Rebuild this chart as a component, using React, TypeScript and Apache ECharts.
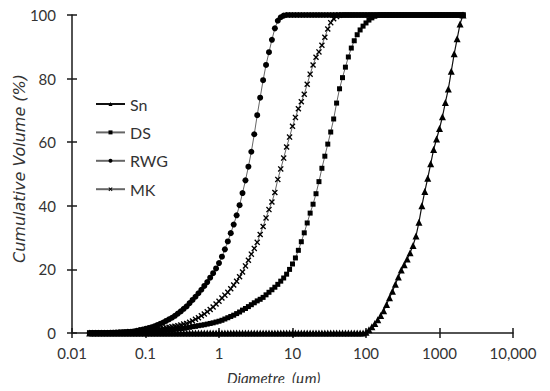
import React, { useEffect, useRef } from "react";
import * as echarts from "echarts";

// Particle-size classes (µm)
const diameters = [
  0.0174, 0.0191, 0.0209, 0.0229, 0.0251, 0.0275, 0.0302, 0.0331, 0.0363, 0.0398,
  0.0437, 0.0479, 0.0525, 0.0575, 0.0631, 0.0692, 0.0759, 0.0832, 0.0912,
  0.1, 0.1096, 0.1202, 0.1318, 0.1445, 0.1585, 0.1738, 0.1905, 0.2089, 0.2291,
  0.2512, 0.2754, 0.302, 0.3311, 0.3631, 0.3981, 0.4365, 0.4786, 0.5248, 0.5754,
  0.631, 0.6918, 0.7586, 0.8318, 0.912,
  1, 1.096, 1.202, 1.318, 1.445, 1.585, 1.738, 1.905, 2.089, 2.291,
  2.512, 2.754, 3.02, 3.311, 3.631, 3.981, 4.365, 4.786, 5.248, 5.754,
  6.31, 6.918, 7.586, 8.318, 9.12,
  10, 10.96, 12.02, 13.18, 14.45, 15.85, 17.38, 19.05, 20.89, 22.91,
  25.12, 27.54, 30.2, 33.11, 36.31, 39.81, 43.65, 47.86, 52.48, 57.54,
  63.1, 69.18, 75.86, 83.18, 91.2,
  100, 109.6, 120.2, 131.8, 144.5, 158.5, 173.8, 190.5, 208.9, 229.1,
  251.2, 275.4, 302, 331.1, 363.1, 398.1, 436.5, 478.6, 524.8, 575.4,
  631, 691.8, 758.6, 831.8, 912,
  1000, 1096, 1202, 1318, 1445, 1585, 1738, 1905, 2089,
];

const snValues = [
  0, 0, 0, 0, 0, 0, 0, 0, 0, 0, 0, 0, 0, 0, 0, 0, 0, 0, 0, 0,
  0, 0, 0, 0, 0, 0, 0, 0, 0, 0, 0, 0, 0, 0, 0, 0, 0, 0, 0, 0,
  0, 0, 0, 0, 0, 0, 0, 0, 0, 0, 0, 0, 0, 0, 0, 0, 0, 0, 0, 0,
  0, 0, 0, 0, 0, 0, 0, 0, 0, 0, 0, 0, 0, 0, 0, 0, 0, 0, 0, 0,
  0, 0, 0, 0, 0, 0, 0, 0, 0, 0, 0, 0, 0, 0,
  0.2, 1.0, 2.0, 3.0, 4.2, 5.5, 7.0, 9.0, 11.1, 13.1,
  15.3, 17.6, 19.8, 21.5, 23.3, 25.2, 27.5, 30.5, 34.8, 40.0,
  44.5, 48.7, 53.2, 57.7, 61.0, 64.3, 68.0, 72.5, 76.7, 82.3,
  87.8, 92.5, 97.2, 100,
];

const dsValues = [
  0, 0, 0, 0, 0, 0, 0, 0, 0, 0,
  0.02, 0.05, 0.08, 0.1, 0.15, 0.2, 0.25, 0.3, 0.35, 0.4,
  0.5, 0.55, 0.6, 0.7, 0.8, 0.9, 1.0, 1.05, 1.1, 1.2,
  1.3, 1.4, 1.5, 1.65, 1.8, 2.0, 2.1, 2.3, 2.45, 2.6,
  2.8, 3.0, 3.2, 3.45, 3.7, 4.0, 4.4, 4.8, 5.2, 5.6,
  6.1, 6.6, 7.2, 7.7, 8.3, 8.9, 9.5, 10.1, 10.6, 11.2,
  12.0, 12.8, 13.6, 14.4, 15.3, 16.3, 17.3, 18.5, 20.0, 21.7,
  23.6, 26.0, 28.7, 31.5, 34.6, 37.7, 40.5, 43.8, 47.6, 51.8,
  55.6, 59.4, 63.2, 67.3, 72.3, 76.8, 80.3, 83.6, 86.8, 89.6,
  91.9, 93.8, 95.3, 96.5, 97.5, 98.4, 99.1, 99.6, 99.9,
  100, 100, 100, 100, 100, 100, 100, 100, 100, 100,
  100, 100, 100, 100, 100, 100, 100, 100, 100, 100,
  100, 100, 100, 100, 100, 100, 100, 100, 100,
];

const rwgValues = [
  0, 0, 0, 0, 0, 0, 0,
  0.05, 0.1, 0.15, 0.2, 0.25, 0.3, 0.35, 0.4, 0.5, 0.7, 0.9, 1.1, 1.3,
  1.55, 1.8, 2.1, 2.5, 2.9, 3.3, 3.8, 4.3, 4.8, 5.4,
  6.1, 6.8, 7.6, 8.4, 9.4, 10.4, 11.4, 12.5, 13.6, 14.8,
  16.0, 17.4, 18.8, 20.3, 22.0, 24.0, 26.3, 28.8, 31.4, 34.1,
  37.0, 40.2, 44.0, 48.0, 52.3, 57.0, 62.5, 68.5, 74.0, 79.5,
  84.3, 88.3, 92.2, 95.8, 98.2, 99.3, 99.8, 100,
  100, 100, 100, 100, 100, 100, 100, 100, 100, 100,
  100, 100, 100, 100, 100, 100, 100, 100, 100, 100,
  100, 100, 100, 100, 100, 100, 100, 100, 100, 100,
  100, 100, 100, 100, 100, 100, 100, 100, 100, 100,
  100, 100, 100, 100, 100, 100, 100, 100, 100, 100,
  100, 100, 100, 100, 100, 100, 100, 100, 100, 100,
];

const mkValues = [
  0, 0, 0, 0, 0, 0, 0, 0,
  0.05, 0.1, 0.1, 0.15, 0.2, 0.25, 0.3, 0.4, 0.5, 0.6, 0.7, 0.8,
  0.9, 1.0, 1.1, 1.2, 1.4, 1.5, 1.7, 1.8, 2.0, 2.1,
  2.3, 2.5, 2.8, 3.0, 3.4, 3.8, 4.3, 4.8, 5.4, 6.0,
  6.7, 7.4, 8.2, 9.1, 10.0, 11.0, 11.9, 12.8, 13.9, 15.1,
  16.3, 17.7, 19.2, 21.1, 22.9, 24.8, 26.6, 28.5, 31.0, 33.5,
  36.2, 38.8, 41.2, 44.2, 48.3, 51.6, 55.0, 58.5, 61.6, 65.0,
  67.8, 70.5, 72.7, 75.1, 78.2, 81.4, 84.3, 86.7, 88.4, 90.5,
  93.0, 95.6, 97.6, 98.8, 99.5, 99.9,
  100, 100, 100, 100, 100, 100, 100, 100, 100, 100,
  100, 100, 100, 100, 100, 100, 100, 100, 100, 100,
  100, 100, 100, 100, 100, 100, 100, 100, 100, 100,
  100, 100, 100, 100, 100, 100, 100, 100, 100, 100,
  100, 100,
];

const seriesNames = ["Sn", "DS", "RWG", "MK"];
const xTickLabels = ["0.01", "0.1", "1", "10", "100", "1000", "10,000"];
const xTitle = "Diametre  (\u00b5m)";
const yTitle = "Cumulative Volume (%)";

const FONT = "Lato, 'Open Sans', sans-serif";
const CROSS =
  "path://M0,1.6L1.6,0L5,3.4L8.4,0L10,1.6L6.6,5L10,8.4L8.4,10L5,6.6L1.6,10L0,8.4L3.4,5Z";

export default function App() {
  const ref = useRef<HTMLDivElement>(null);

  useEffect(() => {
    if (!ref.current) return;
    const chart = echarts.init(ref.current, undefined, { renderer: "svg" });

    const pairs = (vals: number[]) => diameters.map((d, i) => [d, vals[i]]);
    const mk = (
      name: string,
      vals: number[],
      symbol: string,
      size: number,
      lineColor: string,
      lineWidth: number
    ) => ({
      name,
      type: "line",
      data: pairs(vals),
      xAxisIndex: 0,
      yAxisIndex: 0,
      symbol,
      symbolSize: size,
      showSymbol: true,
      itemStyle: { color: "#000", borderWidth: 0 },
      lineStyle: { color: lineColor, width: lineWidth },
      emphasis: { disabled: true },
    });

    const axisLine = { show: true, lineStyle: { color: "#1a1a1a", width: 1.5 } };
    const tickStyle = { color: "#1a1a1a", width: 1.5 };

    chart.setOption({
      animation: false,
      backgroundColor: "#fff",
      grid: { left: 72, right: 37, top: 15, bottom: 58 },
      legend: {
        orient: "vertical",
        left: 90,
        top: 91,
        itemWidth: 29,
        itemHeight: 5,
        itemGap: 12.4,
        data: seriesNames,
        textStyle: {
          fontFamily: FONT,
          fontSize: 16,
          lineHeight: 16,
          color: "#333",
        },
      },
      xAxis: [
        {
          type: "log",
          logBase: 10,
          min: 0.01,
          max: 10000,
          position: "bottom",
          axisLine,
          axisTick: { show: true, length: 5, lineStyle: tickStyle },
          minorTick: { show: false },
          splitLine: { show: false },
          axisLabel: {
            margin: 12,
            fontFamily: FONT,
            fontSize: 15,
            color: "#333",
            formatter: (v: number) => xTickLabels[Math.round(Math.log10(v)) + 2],
          },
        },
        {
          type: "log",
          logBase: 10,
          min: 0.01,
          max: 10000,
          position: "bottom",
          axisLine: { show: false },
          axisTick: { show: true, inside: true, length: 5, lineStyle: tickStyle },
          splitLine: { show: false },
          axisLabel: { show: false },
        },
      ],
      yAxis: [
        {
          type: "value",
          min: 0,
          max: 100,
          interval: 20,
          position: "left",
          axisLine,
          axisTick: { show: true, length: 5, lineStyle: tickStyle },
          splitLine: { show: false },
          axisLabel: {
            margin: 16,
            fontFamily: FONT,
            fontSize: 15,
            color: "#333",
          },
        },
        {
          type: "value",
          min: 0,
          max: 100,
          interval: 20,
          position: "left",
          axisLine: { show: false },
          axisTick: { show: true, inside: true, length: 5, lineStyle: tickStyle },
          splitLine: { show: false },
          axisLabel: { show: false },
        },
      ],
      graphic: [
        {
          type: "text",
          left: 227,
          top: 370,
          style: {
            text: xTitle,
            font: "italic 15px Lato, 'Open Sans', sans-serif",
            fill: "#333",
          },
        },
        {
          type: "text",
          left: 11,
          top: 74,
          rotation: Math.PI / 2,
          style: {
            text: yTitle,
            font: "oblique 16px 'DejaVu Sans', 'Open Sans', sans-serif",
            fill: "#333",
          },
        },
      ],
      series: [
        mk(seriesNames[0], snValues, "triangle", 7, "#111", 1.2),
        mk(seriesNames[1], dsValues, "rect", 5, "#666", 1),
        mk(seriesNames[2], rwgValues, "circle", 6, "#666", 1),
        mk(seriesNames[3], mkValues, CROSS, 6, "#666", 1),
      ],
    });

    return () => chart.dispose();
  }, []);

  return <div ref={ref} style={{ width: 550, height: 391, margin: -8 }} />;
}
